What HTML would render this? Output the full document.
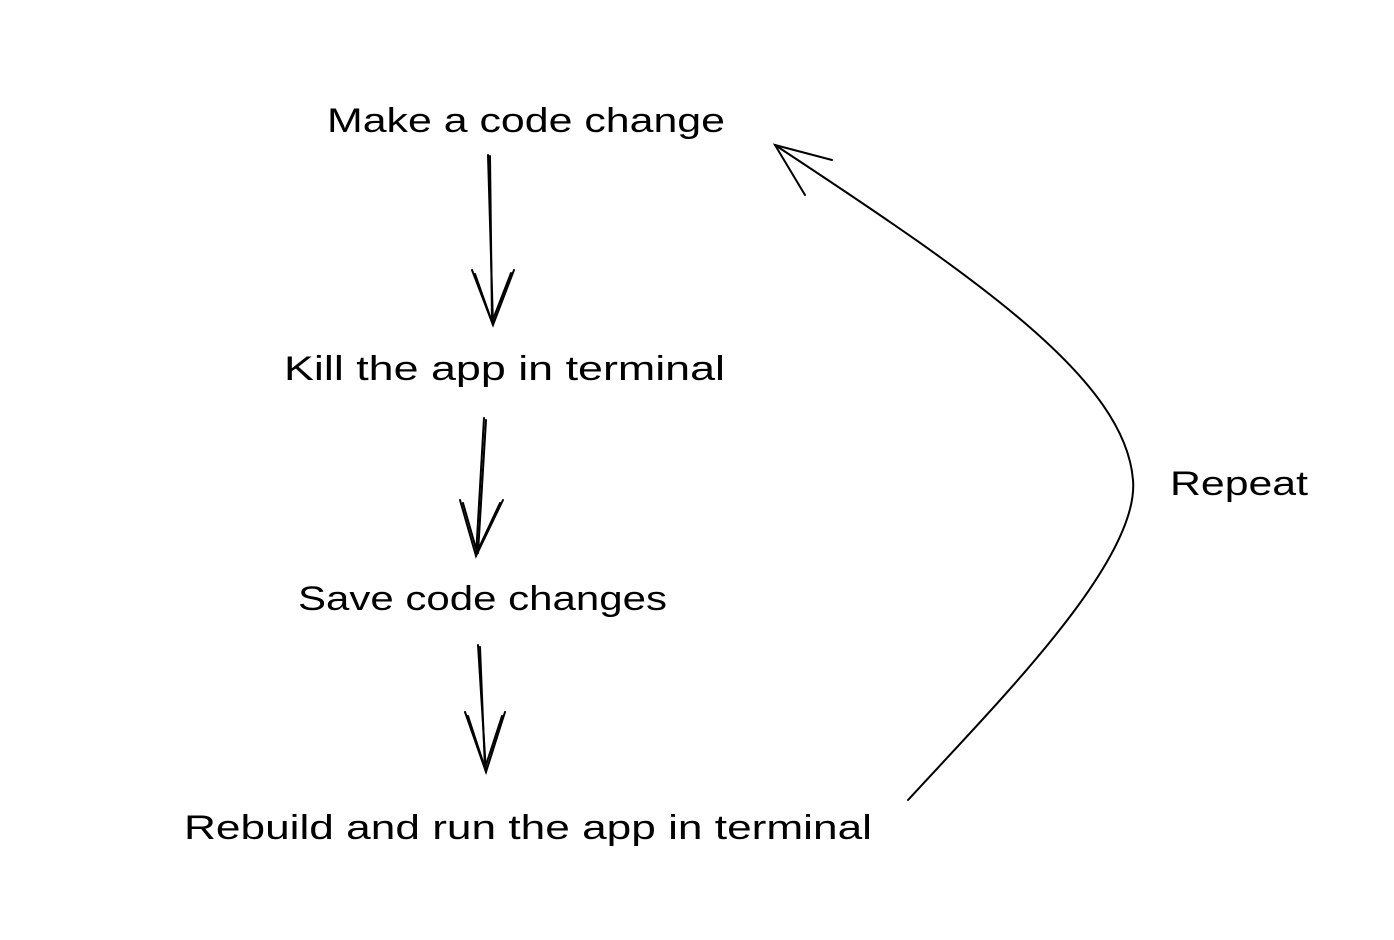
<!DOCTYPE html>
<html><head><meta charset="utf-8"><style>
html,body{margin:0;padding:0;background:#fff;}
svg{display:block;}
text{font-family:"Liberation Sans",sans-serif;font-size:34px;fill:#000;}
</style></head><body>
<svg width="1394" height="940" viewBox="0 0 1394 940" xmlns="http://www.w3.org/2000/svg">
<g fill="none" stroke="#000" stroke-width="2" stroke-linecap="round">
<path d="M488,155 L493,325"/><path d="M490,156 L492,322"/>
<path d="M472,270 L493,325 L514,270"/><path d="M475,274 L492,322 L511,273"/>
<path d="M484,418 L476,556"/><path d="M486,420 L478,553"/>
<path d="M460,500 L476,556 L503,500"/><path d="M463,503 L477,552 L500,503"/>
<path d="M478,645 L486,772"/><path d="M480,647 L485,769"/>
<path d="M465,712 L486,772 L505,712"/><path d="M468,716 L485,768 L502,716"/>
<path d="M908,800 C1000,700 1140,560 1133,480 C1125,380 980,280 775,145"/>
<path d="M832,160 L775,145 L805,195"/>
</g>
<text x="327" y="132" textLength="398" lengthAdjust="spacingAndGlyphs">Make a code change</text>
<text x="284" y="380" textLength="441" lengthAdjust="spacingAndGlyphs">Kill the app in terminal</text>
<text x="298" y="610" textLength="369" lengthAdjust="spacingAndGlyphs">Save code changes</text>
<text x="184" y="839" textLength="688" lengthAdjust="spacingAndGlyphs">Rebuild and run the app in terminal</text>
<text x="1170" y="495" textLength="138" lengthAdjust="spacingAndGlyphs">Repeat</text>
</svg>
</body></html>
